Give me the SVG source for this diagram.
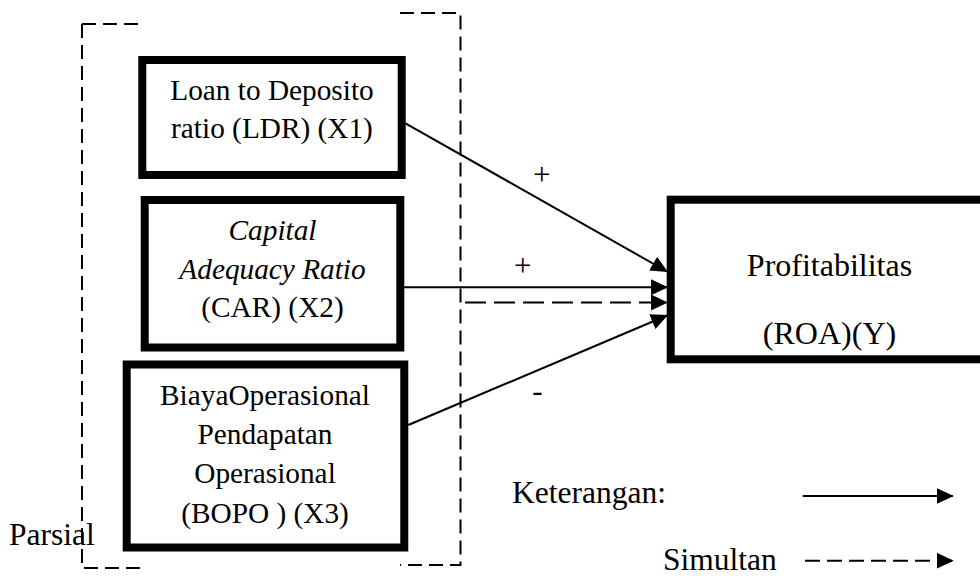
<svg xmlns="http://www.w3.org/2000/svg" width="980" height="576" viewBox="0 0 980 576">
  <style>
    text { font-family: "Liberation Serif", "Times New Roman", serif; fill: #000; }
    .box { fill: #fff; stroke: #000; stroke-width: 8; }
    .t { font-size: 29.3px; text-anchor: middle; }
    .it { font-style: italic; }
    .big { font-size: 32px; text-anchor: middle; }
    .lbl { font-size: 31.5px; }
    .sign { font-size: 31px; text-anchor: middle; }
    .conn { fill: none; stroke: #000; stroke-width: 2; }
    .dash { stroke-dasharray: 21 8; }
    .brk { fill: none; stroke: #000; stroke-width: 2; stroke-dasharray: 14 7; }
    .ldash { stroke-dasharray: 15 7; }
  </style>
  <defs>
    <marker id="arr" markerUnits="userSpaceOnUse" markerWidth="17" markerHeight="16" viewBox="0 0 16 15" refX="15" refY="7.5" orient="auto">
      <path d="M0,0 L16,7.5 L0,15 z" fill="#000"/>
    </marker>
  </defs>

  <rect width="980" height="576" fill="#fff"/>

  <g id="bracket-parsial">
    <path class="brk" d="M82,24 H142"/>
    <path class="brk" d="M82,24 V568 H142"/>
    <path class="brk" d="M400,13 H460.5 V565 H400"/>
  </g>

  <g id="ldr">
    <rect class="box" x="142.3" y="60" width="259.4" height="115"/>
    <text class="t" x="272" y="100">Loan to Deposito</text>
    <text class="t" x="272" y="138">ratio (LDR) (X1)</text>
  </g>

  <g id="car">
    <rect class="box" x="144.7" y="200" width="255.6" height="147.5"/>
    <text class="t it" x="272.5" y="240">Capital</text>
    <text class="t it" x="272.5" y="279.3">Adequacy Ratio</text>
    <text class="t" x="272.5" y="317">(CAR) (X2)</text>
  </g>

  <g id="bopo">
    <rect class="box" x="126.7" y="364.5" width="277.6" height="183"/>
    <text class="t" x="265" y="405">BiayaOperasional</text>
    <text class="t" x="265" y="443.5">Pendapatan</text>
    <text class="t" x="265" y="483.3">Operasional</text>
    <text class="t" x="265" y="523.3">(BOPO ) (X3)</text>
  </g>

  <g id="roa">
    <rect class="box" x="670.7" y="199.7" width="330" height="159.6"/>
    <text class="big" x="829.5" y="275.7">Profitabilitas</text>
    <text class="big" x="829.5" y="344">(ROA)(Y)</text>
  </g>

  <g id="connectors">
    <line class="conn" x1="405.5" y1="123.3" x2="667" y2="271.5" marker-end="url(#arr)"/>
    <line class="conn" x1="404" y1="287.3" x2="667" y2="287.3" marker-end="url(#arr)"/>
    <line class="conn dash" x1="465" y1="302.5" x2="667" y2="302.5" marker-end="url(#arr)"/>
    <line class="conn" x1="408.3" y1="425" x2="667" y2="315.5" marker-end="url(#arr)"/>
  </g>

  <g id="signs">
    <text class="sign" x="541.7" y="184.5">+</text>
    <text class="sign" x="522.7" y="276">+</text>
    <text class="sign" x="537.3" y="400.5">-</text>
  </g>

  <g id="legend">
    <text class="lbl" x="9" y="545">Parsial</text>
    <text class="lbl" x="512" y="503.3">Keterangan:</text>
    <text class="lbl" x="663" y="569.5">Simultan</text>
    <line class="conn" x1="802.7" y1="496" x2="952.7" y2="496" marker-end="url(#arr)"/>
    <line class="conn ldash" x1="805" y1="560.7" x2="952.7" y2="560.7" marker-end="url(#arr)"/>
  </g>
</svg>
